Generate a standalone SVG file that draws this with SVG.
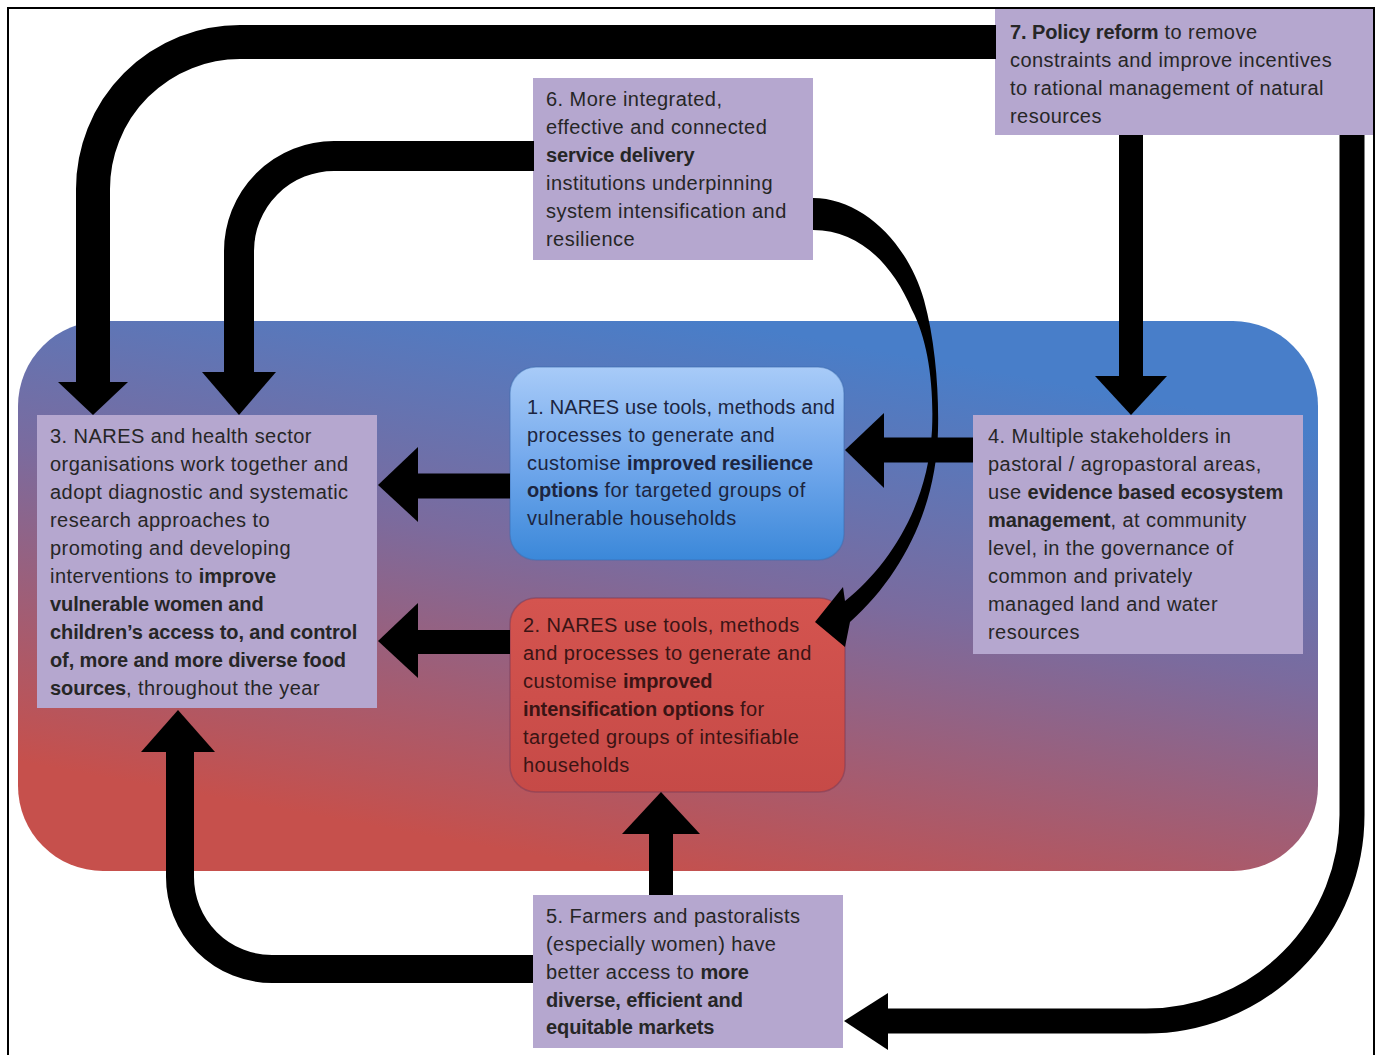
<svg xmlns="http://www.w3.org/2000/svg" width="1380" height="1055" viewBox="0 0 1380 1055">
<defs>
<style>
.t{font-family:"Liberation Sans",Arial,sans-serif;font-size:20px;fill:#262626;letter-spacing:0.45px}
.b{font-weight:bold;letter-spacing:-0.1px}
.box{fill:#b5a7cf}
.ln{fill:none;stroke:#000}
.hd{fill:#000}
</style>
<linearGradient id="bg" gradientUnits="userSpaceOnUse" x1="720" y1="321" x2="620" y2="871">
<stop offset="0" stop-color="#487ec9"/>
<stop offset="0.45" stop-color="#7b6b9e"/>
<stop offset="1" stop-color="#c6504c"/>
</linearGradient>
<linearGradient id="g1" x1="0" y1="0" x2="0" y2="1">
<stop offset="0" stop-color="#a8cbf8"/>
<stop offset="0.5" stop-color="#72a8ec"/>
<stop offset="1" stop-color="#3b88d9"/>
</linearGradient>
<linearGradient id="g2" x1="0" y1="0" x2="0" y2="1">
<stop offset="0" stop-color="#d4544f"/>
<stop offset="1" stop-color="#c64a47"/>
</linearGradient>
</defs>
<rect x="0" y="0" width="1380" height="1055" fill="#fff"/>
<rect x="8" y="8" width="1366" height="1060" fill="none" stroke="#000" stroke-width="2"/>
<rect id="background" x="18" y="321" width="1300" height="550" rx="85" ry="85" fill="url(#bg)"/>

<g id="node-7">
<rect class="box" x="995" y="9" width="378" height="126"/>
<text class="t"><tspan x="1010" y="39"><tspan class="b">7. Policy reform</tspan> to remove</tspan><tspan x="1010" y="67">constraints and improve incentives</tspan><tspan x="1010" y="95">to rational management of natural</tspan><tspan x="1010" y="123">resources</tspan></text>
</g>

<g id="node-6">
<rect class="box" x="533" y="78" width="280" height="182"/>
<text class="t"><tspan x="546" y="106">6. More integrated,</tspan><tspan x="546" y="134">effective and connected</tspan><tspan x="546" y="162" class="b">service delivery</tspan><tspan x="546" y="190">institutions underpinning</tspan><tspan x="546" y="218">system intensification and</tspan><tspan x="546" y="246">resilience</tspan></text>
</g>

<g id="node-3">
<rect class="box" x="37" y="415" width="340" height="293"/>
<text class="t"><tspan x="50" y="443">3. NARES and health sector</tspan><tspan x="50" y="471">organisations work together and</tspan><tspan x="50" y="499">adopt diagnostic and systematic</tspan><tspan x="50" y="527">research approaches to</tspan><tspan x="50" y="555">promoting and developing</tspan><tspan x="50" y="583">interventions  to <tspan class="b">improve</tspan></tspan><tspan x="50" y="611" class="b">vulnerable women and</tspan><tspan x="50" y="639" class="b">children’s access to, and control</tspan><tspan x="50" y="667" class="b">of, more and more diverse food</tspan><tspan x="50" y="695"><tspan class="b">sources</tspan>, throughout the year</tspan></text>
</g>

<g id="node-1">
<rect x="510" y="367" width="334" height="193" rx="26" ry="26" fill="url(#g1)" stroke="#3c6db0" stroke-opacity="0.45" stroke-width="1.5"/>
<text class="t" style="fill:#1c2540"><tspan x="527" y="414" style="letter-spacing:0.15px">1. NARES use tools, methods and</tspan><tspan x="527" y="442">processes to generate and</tspan><tspan x="527" y="470">customise <tspan class="b">improved resilience</tspan></tspan><tspan x="527" y="497"><tspan class="b">options</tspan> for targeted groups of</tspan><tspan x="527" y="525">vulnerable households</tspan></text>
</g>

<g id="node-2">
<rect x="510" y="598" width="335" height="194" rx="26" ry="26" fill="url(#g2)" stroke="#7a3a55" stroke-opacity="0.5" stroke-width="1.5"/>
<text class="t" style="fill:#3a1414"><tspan x="523" y="632">2. NARES use tools, methods</tspan><tspan x="523" y="660">and processes to generate and</tspan><tspan x="523" y="688">customise <tspan class="b">improved</tspan></tspan><tspan x="523" y="716"><tspan class="b">intensification options</tspan> for</tspan><tspan x="523" y="744">targeted groups of intesifiable</tspan><tspan x="523" y="772">households</tspan></text>
</g>

<g id="node-4">
<rect class="box" x="973" y="415" width="330" height="239"/>
<text class="t"><tspan x="988" y="443">4. Multiple stakeholders in</tspan><tspan x="988" y="471">pastoral / agropastoral areas,</tspan><tspan x="988" y="499">use <tspan class="b">evidence based ecosystem</tspan></tspan><tspan x="988" y="527"><tspan class="b">management</tspan>, at community</tspan><tspan x="988" y="555">level, in the governance of</tspan><tspan x="988" y="583">common and privately</tspan><tspan x="988" y="611">managed land and water</tspan><tspan x="988" y="639">resources</tspan></text>
</g>

<g id="node-5">
<rect class="box" x="533" y="895" width="310" height="153"/>
<text class="t"><tspan x="546" y="923">5. Farmers and pastoralists</tspan><tspan x="546" y="951">(especially women) have</tspan><tspan x="546" y="979">better access to <tspan class="b">more</tspan></tspan><tspan x="546" y="1007" class="b">diverse, efficient and</tspan><tspan x="546" y="1034" class="b">equitable markets</tspan></text>
</g>

<g id="connectors">
<path class="ln" stroke-width="34" d="M 996 42 H 240 A 147 147 0 0 0 93 189 V 384"/>
<polygon class="hd" points="58,382 128,382 93,415"/>
<path class="ln" stroke-width="30" d="M 534 156 H 334 A 95 95 0 0 0 239 251 V 374"/>
<polygon class="hd" points="202,372 276,372 239,415"/>
<path class="ln" stroke-width="24" d="M 1131 135 V 378"/>
<polygon class="hd" points="1095,376 1167,376 1131,415"/>
<path class="ln" stroke-width="25" d="M 1352 135 V 815 A 206 206 0 0 1 1146 1021 H 886"/>
<polygon class="hd" points="888,993 888,1050 844,1021"/>
<path class="ln" stroke-width="28" d="M 533 969 H 272 A 92 92 0 0 1 180 877 V 750"/>
<polygon class="hd" points="141,752 215,752 178,710"/>
<path class="ln" stroke-width="24" d="M 661 895 V 832"/>
<polygon class="hd" points="622,834 700,834 661,792"/>
<path class="ln" stroke-width="25" d="M 510 486 H 416"/>
<polygon class="hd" points="418,447 418,522 378,485"/>
<path class="ln" stroke-width="24" d="M 510 642 H 416"/>
<polygon class="hd" points="418,603 418,678 378,641"/>
<path class="ln" stroke-width="25" d="M 973 450 H 882"/>
<polygon class="hd" points="884,413 884,488 845,450"/>
<path class="hd" d="M 813 198 C 862 198, 908 243, 924 300 C 935 340, 939 390, 938 430 C 937 505, 903 575, 850 622 L 845 647 L 815 622 L 843 587 L 845 601 C 890 565, 928 505, 932 430 C 934 385, 928 340, 912 310 C 893 265, 860 230, 813 230 Z"/>
</g>
</svg>
